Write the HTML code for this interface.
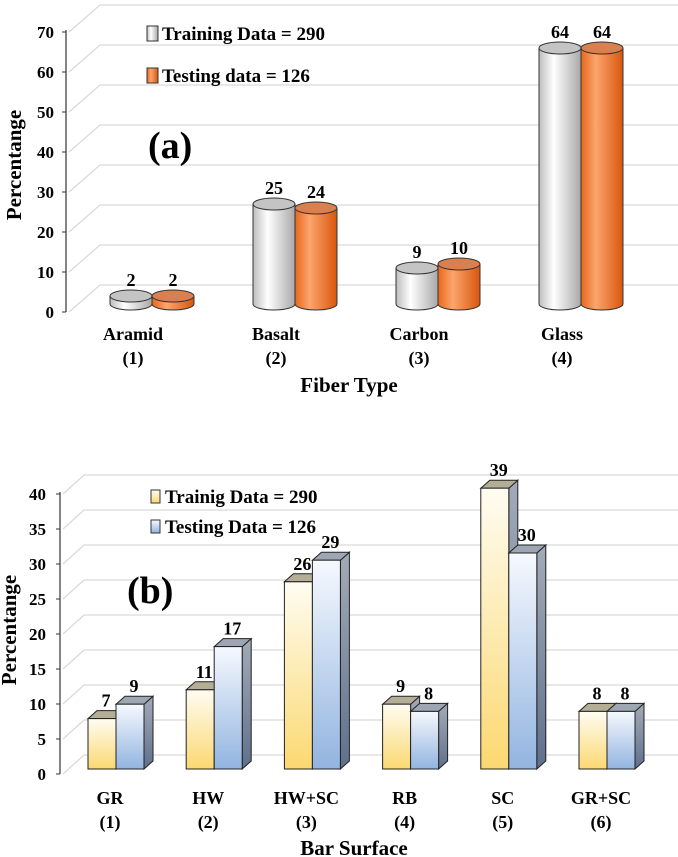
<!DOCTYPE html>
<html><head><meta charset="utf-8"><style>
html,body{margin:0;padding:0;background:#fff}
svg{display:block;font-family:"Liberation Serif",serif;font-weight:bold}
</style></head><body>
<svg id="s" width="678" height="857">
<defs>
<linearGradient id="gw" x1="0" x2="1"><stop offset="0" stop-color="#bdbdbd"/><stop offset="0.35" stop-color="#ffffff"/><stop offset="1" stop-color="#a8a8a8"/></linearGradient>
<linearGradient id="go" x1="0" x2="1"><stop offset="0" stop-color="#e8671a"/><stop offset="0.35" stop-color="#fba56e"/><stop offset="1" stop-color="#d9560c"/></linearGradient>
<linearGradient id="gy" x1="0" y1="0" x2="0" y2="1"><stop offset="0" stop-color="#fffdf2"/><stop offset="1" stop-color="#fbd871"/></linearGradient>
<linearGradient id="gb" x1="0" y1="0" x2="0" y2="1"><stop offset="0" stop-color="#f6f9fe"/><stop offset="1" stop-color="#92b4e0"/></linearGradient>
<linearGradient id="gs" x1="0" y1="0" x2="0" y2="1"><stop offset="0" stop-color="#a3abb8"/><stop offset="1" stop-color="#5f708c"/></linearGradient>
</defs>
<g id="ca"></g>
<g id="cb"></g>
</svg>
<script>
const fiberCats=["Aramid","Basalt","Carbon","Glass"];
const fiberNums=["(1)","(2)","(3)","(4)"];
const fiberTrain=[2,25,9,64];
const fiberTest=[2,24,10,64];
const fiberTicks=[0,10,20,30,40,50,60,70];
const surfCats=["GR","HW","HW+SC","RB","SC","GR+SC"];
const surfNums=["(1)","(2)","(3)","(4)","(5)","(6)"];
const surfTrain=[7,11,26,9,39,8];
const surfTest=[9,17,29,8,30,8];
const surfTicks=[0,5,10,15,20,25,30,35,40];

const NS="http://www.w3.org/2000/svg";
function mk(p,t,a,txt){const e=document.createElementNS(NS,t);for(const k in a)e.setAttribute(k,a[k]);if(txt!==undefined)e.textContent=txt;p.appendChild(e);return e;}

// ---------- Chart A ----------
(function(){
const g=document.getElementById('ca');
const ax=66, y0=312, ppu=4.0, dx=34, dy=27;
const yT=v=>y0-v*ppu;
fiberTicks.forEach(v=>{
  const y=yT(v);
  const l=mk(g,'polyline',{points:`${ax+3},${y} ${ax+dx},${y-dy} 678,${y-dy}`,fill:'none',stroke:'#d9d9d9','stroke-width':1.2});
  
  mk(g,'line',{x1:ax-4,x2:ax,y1:y,y2:y,stroke:'#333'});
  const t=mk(g,'text',{x:54,y:y+6,'text-anchor':'end','font-size':17},v);
  
});
mk(g,'line',{x1:ax,x2:ax,y1:yT(70)-2,y2:y0,stroke:'#333','stroke-width':1.2});
const base=304, gx0=133, gstep=143, w=42, ry=6, boff=19;
const byT=v=>base-v*ppu;
fiberCats.forEach((c,i)=>{
  const cx=gx0+i*gstep, bx=cx+boff;
  [[fiberTrain[i],'url(#gw)','#c4c4c4',bx-21,'bar-training'],[fiberTest[i],'url(#go)','#d98050',bx+21,'bar-testing']].forEach(([v,fill,top,mx,nm])=>{
    const ty=byT(v), x=mx-w/2;
    const p=mk(g,'path',{d:`M${x},${ty} L${x},${base} A${w/2},${ry} 0 0 0 ${x+w},${base} L${x+w},${ty} Z`,fill:fill,stroke:'#333','stroke-width':1});
    
    mk(g,'ellipse',{cx:mx,cy:ty,rx:w/2,ry:ry,fill:top,stroke:'#333','stroke-width':1});
    const t=mk(g,'text',{x:mx,y:ty-10,'text-anchor':'middle','font-size':18},v);
    
  });
  const t1=mk(g,'text',{x:cx,y:340,'text-anchor':'middle','font-size':18},c);
  
  const t2=mk(g,'text',{x:cx,y:364,'text-anchor':'middle','font-size':18},fiberNums[i]);
  
});
const xt=mk(g,'text',{x:349,y:392,'text-anchor':'middle','font-size':21},'Fiber Type');

const yt=mk(g,'text',{x:0,y:0,'text-anchor':'middle','font-size':21,transform:'translate(21,165) rotate(-90)'},'Percentange');

const lab=mk(g,'text',{x:148,y:158,'font-size':38},'(a)');

const l1=mk(g,'rect',{x:147,y:26,width:11,height:15,fill:'url(#gw)',stroke:'#333'});

const lt1=mk(g,'text',{x:162,y:40,'font-size':19},'Training Data = 290');

const l2=mk(g,'rect',{x:147,y:68,width:11,height:15,fill:'url(#go)',stroke:'#333'});

const lt2=mk(g,'text',{x:162,y:82,'font-size':19},'Testing data = 126');

})();

// ---------- Chart B ----------
(function(){
const g=document.getElementById('cb');
const ax=60, y0=774, ppu=7.0, dx=24, dy=19;
const yT=v=>y0-v*ppu;
surfTicks.forEach(v=>{
  const y=yT(v);
  const l=mk(g,'polyline',{points:`${ax+3},${y} ${ax+dx},${y-dy} 678,${y-dy}`,fill:'none',stroke:'#d9d9d9','stroke-width':1.2});
  
  mk(g,'line',{x1:ax-4,x2:ax,y1:y,y2:y,stroke:'#333'});
  const t=mk(g,'text',{x:46,y:y+6,'text-anchor':'end','font-size':17},v);
  
});
mk(g,'line',{x1:ax,x2:ax,y1:yT(40)-2,y2:y0,stroke:'#333','stroke-width':1.2});
const base=769, gx0=116, gstep=98.2, w=28, ddx=9, ddy=8;
const byT=v=>base-v*7.2;
surfCats.forEach((c,i)=>{
  const cx=gx0+i*gstep;
  [[surfTrain[i],'url(#gy)','#b5ae96',cx-w,'bar-training'],[surfTest[i],'url(#gb)','#9ea6b3',cx,'bar-testing']].forEach(([v,fill,top,x,nm])=>{
    const ty=byT(v);
    mk(g,'path',{d:`M${x+w},${ty} L${x+w+ddx},${ty-ddy} L${x+w+ddx},${base-ddy} L${x+w},${base} Z`,fill:'url(#gs)',stroke:'#222','stroke-width':1});
    mk(g,'path',{d:`M${x},${ty} L${x+ddx},${ty-ddy} L${x+w+ddx},${ty-ddy} L${x+w},${ty} Z`,fill:top,stroke:'#222','stroke-width':1});
    const r=mk(g,'rect',{x:x,y:ty,width:w,height:base-ty,fill:fill,stroke:'#222','stroke-width':1});
    
    const t=mk(g,'text',{x:x+w/2+4,y:ty-12,'text-anchor':'middle','font-size':18},v);
    
  });
  const t1=mk(g,'text',{x:cx-6,y:804,'text-anchor':'middle','font-size':18},c);
  
  const t2=mk(g,'text',{x:cx-6,y:828,'text-anchor':'middle','font-size':18},surfNums[i]);
  
});
const xt=mk(g,'text',{x:354,y:855,'text-anchor':'middle','font-size':21},'Bar Surface');

const yt=mk(g,'text',{x:0,y:0,'text-anchor':'middle','font-size':21,transform:'translate(16,630) rotate(-90)'},'Percentange');

const lab=mk(g,'text',{x:127,y:603,'font-size':38},'(b)');

const l1=mk(g,'rect',{x:151,y:490,width:9,height:13,fill:'url(#gy)',stroke:'#333'});

const lt1=mk(g,'text',{x:165,y:503,'font-size':19},'Trainig Data = 290');

const l2=mk(g,'rect',{x:151,y:520,width:9,height:13,fill:'url(#gb)',stroke:'#333'});

const lt2=mk(g,'text',{x:165,y:533,'font-size':19},'Testing Data = 126');

})();
</script>
</body></html>
